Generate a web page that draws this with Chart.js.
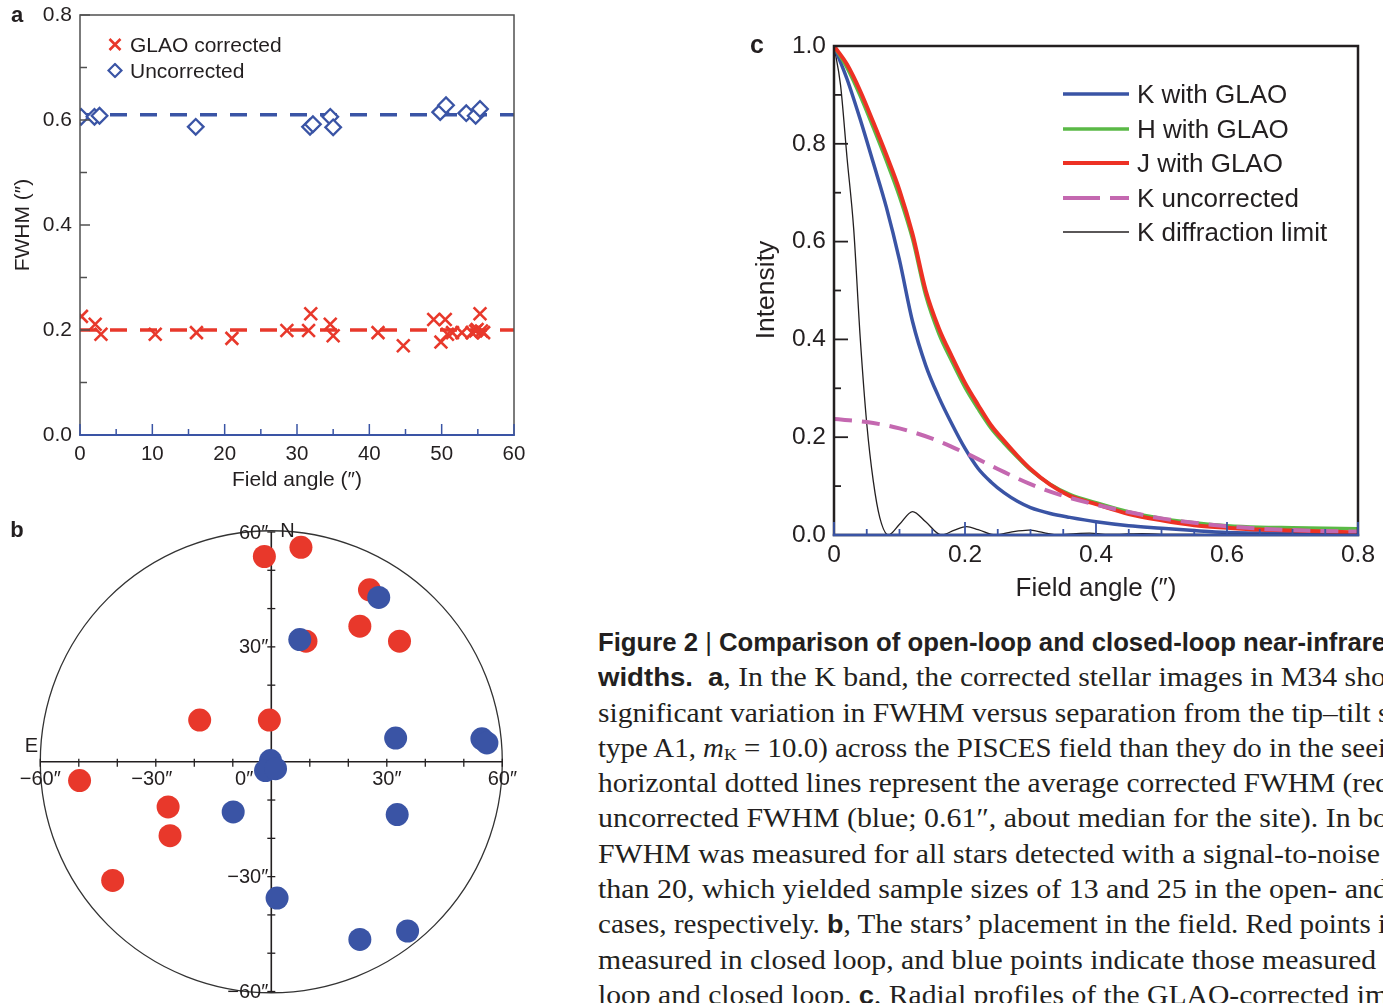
<!DOCTYPE html>
<html>
<head>
<meta charset="utf-8">
<title>Figure 2</title>
<script src="https://cdn.jsdelivr.net/npm/chart.js@4.4.1/dist/chart.umd.min.js"></script>
<style>
  html, body { margin: 0; padding: 0; background: #fff; }
  body { position: relative; width: 1383px; height: 1003px; overflow: hidden;
         font-family: 'Liberation Sans', Arial, sans-serif; color: #231f20; }
  canvas { position: absolute; }
  .t { position: absolute; white-space: nowrap; line-height: 1; transform: translate(-50%, -50%); }
  .rot { transform: translate(-50%, -50%) rotate(-90deg); }
  .item { position: absolute; display: flex; align-items: center; white-space: nowrap; transform: translateY(-50%); line-height: 1; }
  .item svg { flex: none; }
  #caption { position: absolute; left: 598px; top: 625px; width: 785px; height: 378px; overflow: hidden; }
  .ln { height: 35.3px; line-height: 35.3px; white-space: nowrap; transform-origin: 0 50%;
        font-family: 'Liberation Serif', 'Times New Roman', serif; font-size: 27px; color: #231f20; }
  .ln.head { font-family: 'Liberation Sans', Arial, sans-serif; font-weight: bold; font-size: 25px; }
  .s { font-family: 'Liberation Sans', Arial, sans-serif; font-weight: bold; font-size: 25px; }
  .pipe { font-weight: normal; }
  sub { font-size: 0.62em; vertical-align: -0.2em; line-height: 0; }
</style>
</head>
<body>

<!-- panel a -->
<canvas id="chartA" width="540" height="500" style="left:0;top:0"></canvas>
<div class="t" style="left:17px;top:15px;font-size:22px;font-weight:bold">a</div>
<div class="t rot" style="left:21px;top:225px;font-size:21px">FWHM (″)</div>
<div class="t" style="left:297px;top:478px;font-size:21px">Field angle (″)</div>
<div class="item" style="left:107px;top:44px;font-size:21px">
  <svg width="16" height="16" viewBox="-8 -8 16 16"><path d="M-5.5 -5.5 L5.5 5.5 M-5.5 5.5 L5.5 -5.5" stroke="#e8382b" stroke-width="2.6"/></svg>
  <span style="margin-left:7px">GLAO corrected</span>
</div>
<div class="item" style="left:107px;top:70px;font-size:21px">
  <svg width="16" height="16" viewBox="-8 -8 16 16"><path d="M0 -6.5 L6.5 0 L0 6.5 L-6.5 0 Z" stroke="#3a54a5" stroke-width="2.2" fill="#fff"/></svg>
  <span style="margin-left:7px">Uncorrected</span>
</div>

<!-- panel b -->
<canvas id="chartB" width="540" height="498" style="left:0;top:505px"></canvas>
<div class="t" style="left:17px;top:530px;font-size:22px;font-weight:bold">b</div>

<!-- panel c -->
<canvas id="chartC" width="643" height="560" style="left:740px;top:20px"></canvas>
<div class="t" style="left:757px;top:44px;font-size:25px;font-weight:bold">c</div>
<div class="t rot" style="left:765px;top:290px;font-size:26.5px">Intensity</div>
<div class="t" style="left:1096px;top:587px;font-size:26px">Field angle (″)</div>
<div id="legendC"></div>

<!-- caption -->
<div id="caption">
  <div class="ln head" data-w="788"><span class="v">Figure 2 <span class="pipe">|</span> Comparison of open-loop and closed-loop near-infrare</span>d line</div>
  <div class="ln" data-w="788"><span class="v"><span class="s">widths.</span>&nbsp; <span class="s">a</span>, In the K band, the corrected stellar images in M34 sho</span>w less</div>
  <div class="ln" data-w="780"><span class="v">significant variation in FWHM versus separation from the tip–tilt </span>star (spectral</div>
  <div class="ln" data-w="788"><span class="v">type A1, <i>m</i><sub>K</sub> = 10.0) across the PISCES field than they do in the seei</span>ng. The</div>
  <div class="ln" data-w="792"><span class="v">horizontal dotted lines represent the average corrected FWHM (red</span>; 0.20″) and</div>
  <div class="ln" data-w="790"><span class="v">uncorrected FWHM (blue; 0.61″, about median for the site). In bo</span>th cases,</div>
  <div class="ln" data-w="782"><span class="v">FWHM was measured for all stars detected with a signal-to-noise</span> ratio greater</div>
  <div class="ln" data-w="790"><span class="v">than 20, which yielded sample sizes of 13 and 25 in the open- and</span> closed-loop</div>
  <div class="ln" data-w="780"><span class="v">cases, respectively. <span class="s">b</span>, The stars’ placement in the field. Red points </span>indicate stars</div>
  <div class="ln" data-w="778"><span class="v">measured in closed loop, and blue points indicate those measured</span> in both open</div>
  <div class="ln" data-w="790"><span class="v">loop and closed loop. <span class="s">c</span>, Radial profiles of the GLAO-corrected im</span>ages.</div>
</div>

<script>
// ---- panel a: FWHM versus field angle ----
const glaoAngle = [0.2, 2.1, 2.9, 10.4, 16.1, 21.0, 28.6, 31.6, 31.9, 34.6, 35.0, 41.2, 44.7,
                   48.9, 50.5, 49.9, 50.8, 51.5, 52.8, 54.2, 54.7, 55.3, 55.5, 55.8, 54.9];
const glaoFwhm = [0.226, 0.211, 0.192, 0.192, 0.195, 0.184, 0.199, 0.199, 0.231, 0.211, 0.189, 0.195, 0.170,
                  0.220, 0.220, 0.177, 0.192, 0.195, 0.195, 0.195, 0.198, 0.231, 0.198, 0.195, 0.201];
const uncorrAngle = [0.15, 2.0, 2.7, 16.0, 31.8, 32.2, 34.6, 35.0, 49.8, 50.6, 53.4, 54.7, 55.3];
const uncorrFwhm = [0.606, 0.606, 0.608, 0.587, 0.587, 0.592, 0.606, 0.586, 0.615, 0.628, 0.613, 0.608, 0.621];
const glaoMean = 0.20;
const uncorrMean = 0.61;
const angleRange = [0, 60];

// ---- panel b: star positions (arcsec) ----
const closedX = [-1.8, 7.7, 25.5, 23.0, 33.3, 9.0, -18.6, -0.5, -49.8, -26.8, -26.3, -41.2];
const closedY = [53.6, 56.0, 44.9, 35.4, 31.5, 31.5, 10.9, 10.9, -4.9, -11.8, -19.3, -31.0];
const openX = [27.9, 7.4, 32.3, 54.7, 56.0, -0.2, -1.5, 1.1, -9.9, 32.7, 1.5, 23.0, 35.4];
const openY = [42.9, 31.9, 6.2, 6.0, 4.9, 0.3, -2.3, -1.8, -13.1, -13.8, -35.6, -46.4, -44.2];
const fieldLabelTicks = [-60, -30, 0, 30, 60];

// ---- panel c: radial profiles ----
const profileRadius = [0, 0.02, 0.04, 0.06, 0.08, 0.10, 0.12, 0.14, 0.16, 0.18, 0.20, 0.22, 0.24, 0.26,
                       0.28, 0.30, 0.33, 0.36, 0.40, 0.45, 0.50, 0.55, 0.60, 0.65, 0.70, 0.75, 0.80];
const kGlao = [1.0, 0.932, 0.850, 0.761, 0.670, 0.562, 0.436, 0.347, 0.282, 0.227, 0.177, 0.136, 0.108, 0.086,
               0.069, 0.056, 0.044, 0.036, 0.027, 0.019, 0.014, 0.009, 0.005, 0.004, 0.003, 0.002, 0.002];
const hGlao = [1.0, 0.955, 0.898, 0.833, 0.765, 0.692, 0.605, 0.490, 0.412, 0.355, 0.302, 0.258, 0.218, 0.187,
               0.159, 0.133, 0.104, 0.083, 0.066, 0.047, 0.034, 0.025, 0.019, 0.016, 0.015, 0.014, 0.013];
const jGlao = [1.0, 0.962, 0.908, 0.844, 0.777, 0.705, 0.615, 0.500, 0.423, 0.365, 0.311, 0.266, 0.224, 0.192,
               0.162, 0.135, 0.103, 0.080, 0.063, 0.043, 0.030, 0.020, 0.015, 0.011, 0.009, 0.007, 0.005];
const uncorrRadius = [0, 0.05, 0.10, 0.15, 0.20, 0.25, 0.30, 0.35, 0.40, 0.45, 0.50, 0.55, 0.60, 0.65, 0.70, 0.75, 0.80];
const kUncorr = [0.237, 0.231, 0.218, 0.197, 0.168, 0.135, 0.104, 0.080, 0.062, 0.047, 0.034, 0.025, 0.018, 0.013, 0.010, 0.008, 0.007];
const diffRadius = [0, 0.01, 0.02, 0.03, 0.04, 0.05, 0.06, 0.07, 0.083, 0.10, 0.12, 0.14, 0.164, 0.184, 0.2025,
                    0.22, 0.246, 0.27, 0.297, 0.32, 0.342, 0.37, 0.39, 0.42, 0.45, 0.47, 0.50, 0.55, 0.60, 0.70, 0.80];
const kDiff = [1.0, 0.92, 0.77, 0.627, 0.404, 0.228, 0.11, 0.035, 0.0, 0.022, 0.048, 0.027, 0.0, 0.010, 0.017,
               0.011, 0.0, 0.006, 0.010, 0.005, 0.0, 0.003, 0.004, 0.001, 0.002, 0.003, 0.001, 0.001, 0.0, 0.0, 0.0];
const profileLabels = ['K with GLAO', 'H with GLAO', 'J with GLAO', 'K uncorrected', 'K diffraction limit'];

const RED = '#e8382b';
const BLUE = '#3a54a5';
const INK = '#231f20';

Chart.defaults.font.family = "'Liberation Sans', Arial, sans-serif";
Chart.defaults.color = INK;
Chart.defaults.animation = false;

const pts = (xs, ys) => xs.map((x, i) => ({ x, y: ys[i] }));

function strokeLine(ctx, x1, y1, x2, y2) {
  ctx.beginPath();
  ctx.moveTo(x1, y1);
  ctx.lineTo(x2, y2);
  ctx.stroke();
}

function isMultiple(v, step) {
  return Math.abs(Math.round(v / step) * step - v) < 1e-6;
}

// frame with inward ticks, bottom axis in blue
const boxAxes = {
  id: 'boxAxes',
  afterDatasetsDraw(chart, args, o) {
    const { ctx, chartArea: a } = chart;
    const x = chart.scales.x, y = chart.scales.y;
    ctx.save();
    ctx.lineCap = 'butt';
    ctx.strokeStyle = o.frameColor;
    ctx.lineWidth = o.tickWidth;
    const ny = Math.round((y.max - y.min) / o.yMinor);
    for (let i = 0; i <= ny; i++) {
      const v = y.min + i * o.yMinor;
      const py = y.getPixelForValue(v);
      strokeLine(ctx, a.left, py, a.left + (isMultiple(v, o.yMajor) ? o.yMajorLen : o.yMinorLen), py);
    }
    ctx.lineWidth = o.frameWidth;
    ctx.strokeRect(a.left, a.top, a.right - a.left, a.bottom - a.top);
    ctx.strokeStyle = o.axisColor;
    ctx.lineWidth = o.tickWidth;
    const nx = Math.round((x.max - x.min) / o.xMinor);
    for (let i = 0; i <= nx; i++) {
      const v = x.min + i * o.xMinor;
      const px = x.getPixelForValue(v);
      strokeLine(ctx, px, a.bottom, px, a.bottom - (isMultiple(v, o.xMajor) ? o.xMajorLen : o.xMinorLen));
    }
    ctx.lineWidth = o.axisWidth;
    strokeLine(ctx, a.left - o.frameWidth / 2, a.bottom, a.right + o.frameWidth / 2, a.bottom);
    ctx.restore();
  }
};

// Panel a
new Chart(document.getElementById('chartA'), {
  type: 'scatter',
  data: {
    datasets: [
      { label: 'GLAO corrected', data: pts(glaoAngle, glaoFwhm), pointStyle: 'crossRot', pointRadius: 9,
        borderColor: RED, backgroundColor: RED, borderWidth: 2.6 },
      { label: 'Uncorrected', data: pts(uncorrAngle, uncorrFwhm), pointStyle: 'rectRot', pointRadius: 7.8,
        borderColor: BLUE, backgroundColor: '#fff', borderWidth: 2.3 },
      { label: 'GLAO mean', data: pts(angleRange, [glaoMean, glaoMean]), showLine: true, pointRadius: 0,
        borderColor: RED, borderWidth: 3.5, borderDash: [17, 13] },
      { label: 'Uncorrected mean', data: pts(angleRange, [uncorrMean, uncorrMean]), showLine: true, pointRadius: 0,
        borderColor: BLUE, borderWidth: 3.5, borderDash: [17, 13] }
    ]
  },
  options: {
    responsive: false,
    events: [],
    layout: { padding: { left: 0, top: 15, right: 26, bottom: 0 } },
    plugins: {
      legend: { display: false },
      tooltip: { enabled: false },
      boxAxes: { frameColor: '#505050', frameWidth: 1.5, axisColor: BLUE, axisWidth: 2, tickWidth: 1.5,
                 xMinor: 5, xMajor: 10, xMajorLen: 11, xMinorLen: 6,
                 yMinor: 0.1, yMajor: 0.2, yMajorLen: 10, yMinorLen: 7 }
    },
    scales: {
      x: {
        type: 'linear', min: 0, max: 60,
        grid: { display: false, drawTicks: false },
        border: { display: false },
        ticks: { stepSize: 10, padding: 7, maxRotation: 0, font: { size: 20.5 }, color: INK },
        afterFit: s => { s.height = 65; s.paddingLeft = 0; s.paddingRight = 0; }
      },
      y: {
        min: 0, max: 0.8,
        grid: { display: false, drawTicks: false },
        border: { display: false },
        ticks: { stepSize: 0.2, padding: 8, font: { size: 21 }, color: INK, callback: v => v.toFixed(1) },
        afterFit: s => { s.width = 80; s.paddingTop = 0; s.paddingBottom = 0; }
      }
    }
  },
  plugins: [boxAxes]
});

// crossed axes, ring and labels for the field map
const fieldAxes = {
  id: 'fieldAxes',
  beforeDatasetsDraw(chart) {
    const { ctx } = chart;
    const x = chart.scales.x, y = chart.scales.y;
    const cx = x.getPixelForValue(0), cy = y.getPixelForValue(0);
    const r = x.getPixelForValue(60) - cx;
    ctx.save();
    ctx.strokeStyle = '#333';
    ctx.lineWidth = 1.3;
    ctx.beginPath();
    ctx.arc(cx, cy, r, 0, Math.PI * 2);
    ctx.stroke();
    ctx.strokeStyle = INK;
    ctx.lineWidth = 1.6;
    strokeLine(ctx, x.getPixelForValue(-60), cy, x.getPixelForValue(60), cy);
    strokeLine(ctx, cx, y.getPixelForValue(60), cx, y.getPixelForValue(-60));
    ctx.lineWidth = 1.3;
    for (let v = -60; v <= 60; v += 10) {
      const px = x.getPixelForValue(v), py = y.getPixelForValue(v);
      strokeLine(ctx, px, cy - 3, px, cy + 5);
      if (v !== 0) strokeLine(ctx, cx - 4, py, cx + 4, py);
    }
    ctx.fillStyle = INK;
    ctx.font = "20px 'Liberation Sans', Arial, sans-serif";
    ctx.textBaseline = 'middle';
    const fmt = v => (v < 0 ? '\u2212' + (-v) : String(v)) + '\u2033';
    fieldLabelTicks.forEach(v => {
      ctx.textAlign = v === 0 ? 'right' : 'center';
      ctx.fillText(fmt(v), x.getPixelForValue(v) - (v === 0 ? 18 : (v === -30 ? 4 : 0)), cy + 18);
      if (v !== 0) {
        ctx.textAlign = 'right';
        ctx.fillText(fmt(v), cx - 3, y.getPixelForValue(v) + 1);
      }
    });
    ctx.textAlign = 'left';
    ctx.fillText('N', cx + 9, y.getPixelForValue(60) - 1);
    ctx.textAlign = 'center';
    ctx.fillText('E', x.getPixelForValue(-60) - 9, cy - 15);
    ctx.restore();
  }
};

// Panel b
new Chart(document.getElementById('chartB'), {
  type: 'scatter',
  data: {
    datasets: [
      { label: 'Open and closed loop', data: pts(openX, openY), pointRadius: 11.5, borderWidth: 0,
        backgroundColor: BLUE, borderColor: BLUE, clip: false },
      { label: 'Closed loop', data: pts(closedX, closedY), pointRadius: 11.5, borderWidth: 0,
        backgroundColor: RED, borderColor: RED, clip: false }
    ]
  },
  options: {
    responsive: false,
    events: [],
    layout: { padding: { left: 40.3, right: 37.7, top: 27, bottom: 9 } },
    plugins: { legend: { display: false }, tooltip: { enabled: false } },
    scales: {
      x: { type: 'linear', min: -60, max: 60, display: false },
      y: { type: 'linear', min: -60, max: 60, display: false }
    }
  },
  plugins: [fieldAxes]
});

// Panel c
const profileStyles = [
  { color: BLUE, width: 3.5, dash: [], order: 3 },
  { color: '#5ab946', width: 3.5, dash: [], order: 2 },
  { color: '#ed3124', width: 4, dash: [], order: 1 },
  { color: '#c468b0', width: 4, dash: [18, 10], order: 0 },
  { color: INK, width: 1.3, dash: [], order: 4 }
];
const profileData = [
  pts(profileRadius, kGlao),
  pts(profileRadius, hGlao),
  pts(profileRadius, jGlao),
  pts(uncorrRadius, kUncorr),
  pts(diffRadius, kDiff)
];

new Chart(document.getElementById('chartC'), {
  type: 'line',
  data: {
    datasets: profileLabels.map((label, i) => ({
      label,
      data: profileData[i],
      borderColor: profileStyles[i].color,
      borderWidth: profileStyles[i].width,
      borderDash: profileStyles[i].dash,
      order: profileStyles[i].order,
      pointRadius: 0,
      cubicInterpolationMode: 'monotone'
    }))
  },
  options: {
    responsive: false,
    events: [],
    layout: { padding: { left: 0, top: 26, right: 25, bottom: 0 } },
    plugins: {
      legend: { display: false },
      tooltip: { enabled: false },
      boxAxes: { frameColor: INK, frameWidth: 2.5, axisColor: BLUE, axisWidth: 2.5, tickWidth: 1.8,
                 xMinor: 0.05, xMajor: 0.2, xMajorLen: 13, xMinorLen: 6,
                 yMinor: 0.1, yMajor: 0.2, yMajorLen: 14, yMinorLen: 7 }
    },
    scales: {
      x: {
        type: 'linear', min: 0, max: 0.8,
        grid: { display: false, drawTicks: false },
        border: { display: false },
        ticks: { stepSize: 0.2, padding: 6, maxRotation: 0, font: { size: 24.5 }, color: INK,
                 callback: v => (v === 0 ? '0' : v.toFixed(1)) },
        afterFit: s => { s.height = 45; s.paddingLeft = 0; s.paddingRight = 0; }
      },
      y: {
        min: 0, max: 1,
        grid: { display: false, drawTicks: false },
        border: { display: false },
        ticks: { stepSize: 0.2, padding: 8, font: { size: 24.5 }, color: INK, callback: v => v.toFixed(1) },
        afterFit: s => { s.width = 94; s.paddingTop = 0; s.paddingBottom = 0; }
      }
    }
  },
  plugins: [boxAxes]
});

// legend for panel c, built from the same labels and styles
const legendC = document.getElementById('legendC');
profileLabels.forEach((label, i) => {
  const st = profileStyles[i];
  const item = document.createElement('div');
  item.className = 'item';
  item.style.left = '1063px';
  item.style.top = (94 + i * 34.5) + 'px';
  item.style.fontSize = '26px';
  const dash = st.dash.length ? ' stroke-dasharray="37 10"' : '';
  item.innerHTML = '<svg width="66" height="8"><line x1="0" y1="4" x2="66" y2="4" stroke="' + st.color +
    '" stroke-width="' + st.width + '"' + dash + '/></svg><span style="margin-left:8px">' + label + '</span>';
  legendC.appendChild(item);
});

// squeeze each caption line so that it breaks at the same place as the printed one
function fitCaption() {
  document.querySelectorAll('#caption .ln').forEach(ln => {
    ln.style.transform = 'none';
    const w = ln.querySelector('.v').getBoundingClientRect().width;
    ln.style.transform = 'scaleX(' + (parseFloat(ln.dataset.w) / w) + ')';
  });
}
fitCaption();
if (document.fonts) document.fonts.ready.then(fitCaption);
</script>
</body>
</html>
